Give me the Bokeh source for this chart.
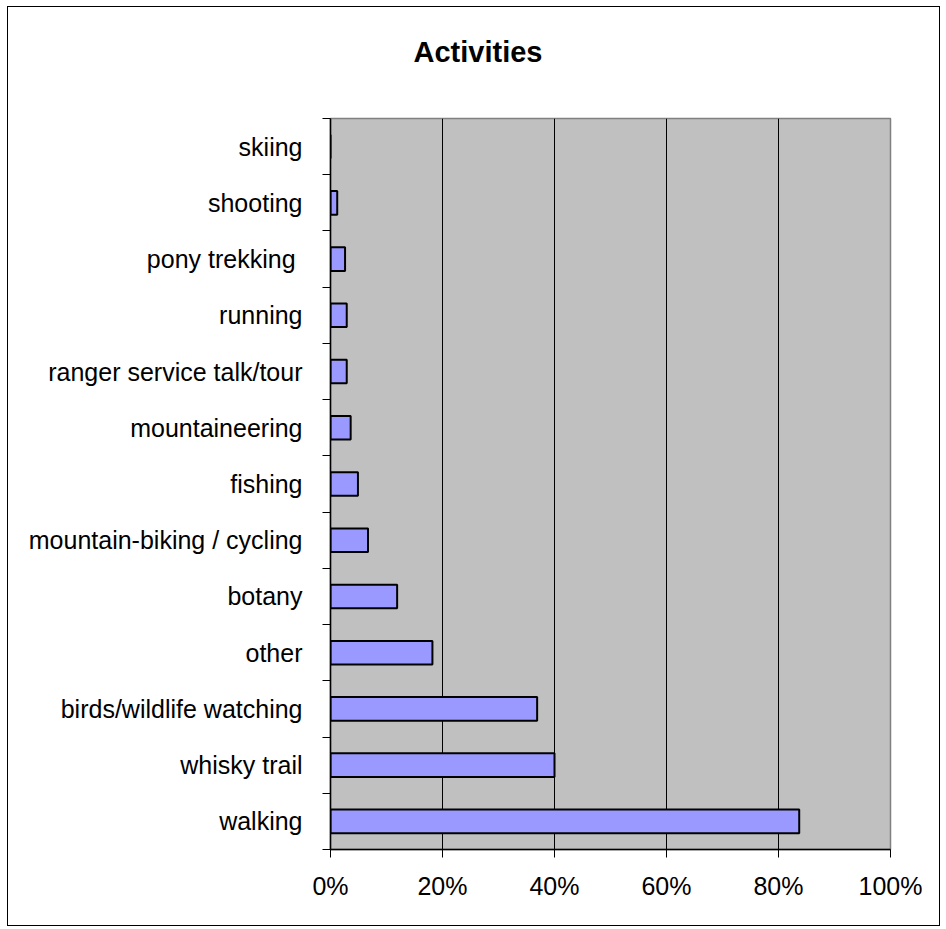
from bokeh.plotting import figure
from bokeh.models import ColumnDataSource, FixedTicker, PrintfTickFormatter, Range1d, Title
from bokeh.embed import file_html
from bokeh.resources import INLINE

# ---- data (bottom to top) ----
activities = ["walking", "whisky trail", "birds/wildlife watching", "other", "botany",
              "mountain-biking / cycling", "fishing", "mountaineering",
              "ranger service talk/tour", "running", "pony trekking\u00a0", "shooting", "skiing"]
percent = [83.7, 40.0, 36.9, 18.2, 11.9, 6.7, 4.9, 3.6, 2.9, 2.9, 2.6, 1.2, 0.0]
x_ticks = [0, 20, 40, 60, 80, 100]
grid_ticks = [20, 40, 60, 80]
title_text = "Activities"

FONT = "Liberation Sans"
n = len(activities)
pos = list(range(n))
src = ColumnDataSource(dict(y=pos, right=percent, name=activities))

p = figure(width=933, height=920, output_backend="svg", toolbar_location=None, title=None,
           x_range=Range1d(0, 100), y_range=Range1d(-0.5, n - 0.5),
           min_border_left=322, min_border_right=51, min_border_top=111, min_border_bottom=78)
p.styles = {"margin-left": "7px", "margin-top": "6px", "border": "1.5px solid black"}

# spacer panel between the frame and the title (closest to the frame)
p.add_layout(Title(text=" ", text_font_size="1px", standoff=43), "above")
p.add_layout(Title(text=title_text, align="left", offset=83, standoff=10,
                   text_font=FONT, text_font_size="29px", text_font_style="bold",
                   text_color="black"), "above")

p.background_fill_color = "#C0C0C0"
p.border_fill_color = "white"
p.outline_line_color = "#808080"
p.outline_line_width = 1.5

p.hbar(y="y", left=0, right="right", height=0.42, source=src,
       fill_color="#9999FF", line_color="black", line_width=2)

# grid
p.ygrid.visible = False
p.xgrid.ticker = FixedTicker(ticks=grid_ticks)
p.xgrid.grid_line_color = "black"
p.xgrid.grid_line_width = 1

# x axis
xa = p.xaxis[0]
xa.ticker = FixedTicker(ticks=x_ticks, minor_ticks=[])
xa.formatter = PrintfTickFormatter(format="%d%%")
xa.major_tick_out = 8
xa.major_tick_in = 0
xa.minor_tick_out = 0
xa.minor_tick_in = 0
xa.axis_line_color = "black"
xa.axis_line_width = 1.5
xa.major_tick_line_color = "black"
xa.major_label_standoff = 14
xa.major_label_text_font = FONT
xa.major_label_text_font_size = "25px"
xa.major_label_text_color = "black"

# y axis
ya = p.yaxis[0]
ya.ticker = FixedTicker(ticks=pos, minor_ticks=[i - 0.5 for i in range(n + 1)])
ya.major_label_overrides = {i: name for i, name in enumerate(activities)}
ya.major_tick_out = 0
ya.major_tick_in = 0
ya.minor_tick_out = 8
ya.minor_tick_in = 0
ya.minor_tick_line_color = "black"
ya.axis_line_color = "black"
ya.axis_line_width = 1.5
ya.major_label_standoff = 20
ya.major_label_text_font = FONT
ya.major_label_text_font_size = "25px"
ya.major_label_text_color = "black"

open("out.html", "w").write(file_html(p, INLINE))
